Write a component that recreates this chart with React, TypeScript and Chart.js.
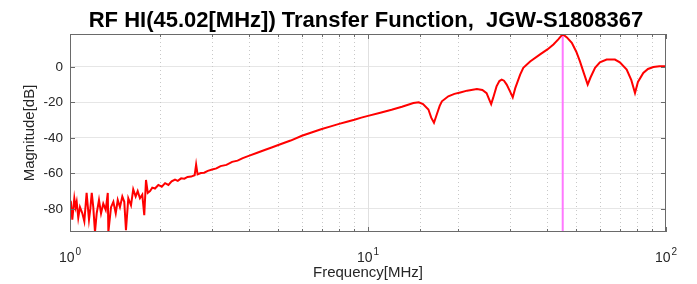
import React, { useEffect, useRef } from "react";
import { Chart, registerables } from "chart.js";

Chart.register(...registerables);

const chartTitle = "RF HI(45.02[MHz]) Transfer Function,  JGW-S1808367";
const xAxisLabel = "Frequency[MHz]";
const yAxisLabel = "Magnitude[dB]";

const frequencyMHz = [
  1.0, 1.008, 1.018, 1.026, 1.034, 1.044, 1.053, 1.066, 1.08, 1.1, 1.117, 1.137, 1.158, 1.17, 1.183,
  1.197, 1.213, 1.229, 1.251, 1.271, 1.293, 1.318, 1.339, 1.345, 1.373, 1.398, 1.424, 1.446, 1.471,
  1.498, 1.521, 1.541, 1.569, 1.602, 1.63, 1.661, 1.687, 1.717, 1.748, 1.775, 1.799, 1.824, 1.856,
  1.888, 1.928, 1.979, 2.032, 2.085, 2.139, 2.193, 2.251, 2.3, 2.36, 2.42, 2.48, 2.55, 2.62, 2.65,
  2.68, 2.75, 2.82, 2.9, 3.0, 3.1, 3.2, 3.35, 3.5, 3.65, 3.8, 4.0, 4.25, 4.5, 4.75, 5.0, 5.5, 6.0,
  6.5, 7.0, 7.5, 8.0, 8.5, 9.0, 9.5, 10.0, 11.0, 12.0, 13.0, 14.2, 14.8, 15.3, 15.95, 16.3, 16.65,
  17.0, 17.4, 17.7, 18.6, 19.5, 20.4, 21.5, 23.2, 24.2, 25.0, 25.5, 25.9, 26.3, 27.0, 27.6, 28.1,
  28.6, 29.2, 29.96, 30.6, 31.2, 32.4, 33.2, 35.0, 37.8, 40.0, 41.9, 43.5, 45.02, 46.5, 48.3, 50.0,
  51.4, 53.0, 54.6, 55.8, 57.8, 60.0, 63.2, 67.4, 70.0, 73.8, 76.5, 78.7, 80.5, 83.9, 87.0, 90.7,
  95.0, 100.0,
];

const magnitudeDb = [
  -78, -77, -86, -80, -74, -79, -76, -85, -79, -82.5, -87, -71, -86, -80, -71,
  -79, -93, -82.5, -75, -82.5, -77, -80.6, -71, -93, -79, -76, -82.5, -75, -79,
  -73, -76, -92, -74, -78, -69, -73, -70, -74, -72, -83.5, -63.7, -71, -70,
  -68, -68.5, -66.5, -67.5, -65.5, -66.5, -64.5, -63.5, -64.2, -62.8, -63, -62, -61.8, -61, -55,
  -60.5, -59.8, -59.6, -58.6, -57.8, -57.2, -55.9, -55.2, -53.5, -52.8, -51.4, -50, -48.4, -46.8, -45.4, -44, -41.5, -38.8,
  -36.8, -35, -33.5, -32.1, -30.9, -29.8, -28.6, -27.6, -25.8, -24.2, -22.5, -20.4, -20, -21, -24, -28.6, -31.5,
  -27, -22, -19.4, -16.6, -15.2, -14.4, -13.4, -12.5, -13, -14.8, -18.3, -21, -17.5, -11, -8, -7.2,
  -7.8, -10, -13.8, -17.2, -12, -4.4, -0.5, 3, 7, 9.8, 12.6, 15.5, 18.4, 16.6, 13.5, 8.5,
  3.2, -3.5, -10, -6, -0.6, 2.5, 4.1, 4.1, 2.5, -1.5, -7.5, -14.7, -8.5, -3.4, -1.2, -0.1,
  0.3, 0.4,
];

const markerFrequencyMHz = 45.02;

const xMin = 1;
const xMax = 100;
const yMin = -93;
const yMax = 18.5;
const yTickValues = [-80, -60, -40, -20, 0];
const xMajorTickValues = [1, 10, 100];
const xTickBase = "10";
const xTickExponents = ["0", "1", "2"];

const FONT = '"Liberation Sans", Arial, Helvetica, sans-serif';
const TEXT_COLOR = "#262626";
const FRAME_COLOR = "#6a6a6a";

const gridPlugin = {
  id: "matlabGrid",
  beforeDatasetsDraw(chart: any) {
    const { ctx, chartArea: a, scales } = chart;
    ctx.save();
    ctx.lineWidth = 1;
    for (const t of scales.x.ticks) {
      const v = t.value;
      if (v <= xMin || v >= xMax) continue;
      const px = Math.round(scales.x.getPixelForValue(v)) + 0.5;
      ctx.beginPath();
      if (xMajorTickValues.includes(v)) {
        ctx.setLineDash([]);
        ctx.strokeStyle = "#e0e0e0";
      } else {
        ctx.setLineDash([1, 3]);
        ctx.strokeStyle = "#c8c8c8";
      }
      ctx.moveTo(px, a.top);
      ctx.lineTo(px, a.bottom);
      ctx.stroke();
    }
    ctx.restore();
  },
};

const framePlugin = {
  id: "matlabFrame",
  afterDraw(chart: any) {
    const { ctx, chartArea: a, scales } = chart;
    ctx.save();
    ctx.strokeStyle = FRAME_COLOR;
    ctx.lineWidth = 1;
    ctx.strokeRect(a.left + 0.5, a.top + 0.5, a.right - a.left - 1, a.bottom - a.top - 1);
    ctx.beginPath();
    for (const t of scales.x.ticks) {
      const v = t.value;
      if (v < xMin || v > xMax) continue;
      const px = Math.round(scales.x.getPixelForValue(v)) + 0.5;
      const len = xMajorTickValues.includes(v) ? 5 : 3;
      ctx.moveTo(px, a.bottom);
      ctx.lineTo(px, a.bottom - len);
      ctx.moveTo(px, a.top);
      ctx.lineTo(px, a.top + len);
    }
    for (const v of yTickValues) {
      const py = Math.round(scales.y.getPixelForValue(v)) + 0.5;
      ctx.moveTo(a.left, py);
      ctx.lineTo(a.left + 5, py);
      ctx.moveTo(a.right, py);
      ctx.lineTo(a.right - 5, py);
    }
    ctx.stroke();

    // x tick labels with superscript exponent
    ctx.fillStyle = TEXT_COLOR;
    ctx.textBaseline = "alphabetic";
    ctx.textAlign = "left";
    xMajorTickValues.forEach((v, i) => {
      const px = scales.x.getPixelForValue(v);
      ctx.font = `14px ${FONT}`;
      const wb = ctx.measureText(xTickBase).width;
      ctx.font = `10px ${FONT}`;
      const we = ctx.measureText(xTickExponents[i]).width;
      const x0 = px - (wb + we + 1) / 2;
      ctx.font = `14px ${FONT}`;
      ctx.fillText(xTickBase, x0, 262);
      ctx.font = `10px ${FONT}`;
      ctx.fillText(xTickExponents[i], x0 + wb + 1, 255);
    });

    // title
    ctx.fillStyle = "#000000";
    ctx.font = `bold 22px ${FONT}`;
    ctx.textAlign = "center";
    ctx.fillText(chartTitle, (a.left + a.right) / 2 - 2, 26.5);
    ctx.restore();
  },
};

export default function App() {
  const canvasRef = useRef<HTMLCanvasElement | null>(null);

  useEffect(() => {
    const canvas = canvasRef.current;
    if (!canvas) return;
    const mainData = frequencyMHz.map((f, i) => ({ x: f, y: magnitudeDb[i] }));
    const markerData = [
      { x: markerFrequencyMHz, y: yMin },
      { x: markerFrequencyMHz, y: yMax },
    ];
    const chart = new Chart(canvas, {
      type: "line",
      data: {
        datasets: [
          {
            data: mainData,
            borderColor: "#ff0000",
            borderWidth: 2,
            pointRadius: 0,
            tension: 0,
            fill: false,
          },
          {
            data: markerData,
            borderColor: "#ff78ff",
            borderWidth: 2,
            pointRadius: 0,
            tension: 0,
            fill: false,
          },
        ],
      },
      options: {
        animation: false,
        responsive: false,
        maintainAspectRatio: false,
        devicePixelRatio: 1,
        layout: { padding: { top: 34, right: 31, left: 0, bottom: 0 } },
        plugins: {
          legend: { display: false },
          tooltip: { enabled: false },
          title: { display: false },
        },
        scales: {
          x: {
            type: "logarithmic",
            min: xMin,
            max: xMax,
            afterFit(scale: any) {
              scale.height = 52;
            },
            border: { display: false },
            grid: { display: false },
            ticks: {
              display: false,
              autoSkip: false,
            },
            title: {
              display: true,
              text: xAxisLabel,
              color: TEXT_COLOR,
              font: { family: FONT, size: 15 },
              padding: { top: 0, bottom: 2 },
            },
          },
          y: {
            type: "linear",
            min: yMin,
            max: yMax,
            afterFit(scale: any) {
              scale.width = 70;
            },
            afterBuildTicks(scale: any) {
              scale.ticks = yTickValues.map((v) => ({ value: v }));
            },
            border: { display: false },
            grid: {
              drawTicks: false,
              color: "#e6e6e6",
              lineWidth: 1,
            },
            ticks: {
              padding: 7,
              color: TEXT_COLOR,
              font: { family: FONT, size: 13.5 },
            },
            title: {
              display: true,
              text: yAxisLabel,
              color: TEXT_COLOR,
              font: { family: FONT, size: 15 },
              padding: { top: 21, bottom: 0 },
            },
          },
        },
      },
      plugins: [gridPlugin, framePlugin],
    });
    return () => chart.destroy();
  }, []);

  return (
    <div style={{ position: "fixed", left: 0, top: 0, width: 697, height: 284, background: "#ffffff" }}>
      <canvas ref={canvasRef} width={697} height={284} style={{ width: 697, height: 284, display: "block" }} />
    </div>
  );
}
